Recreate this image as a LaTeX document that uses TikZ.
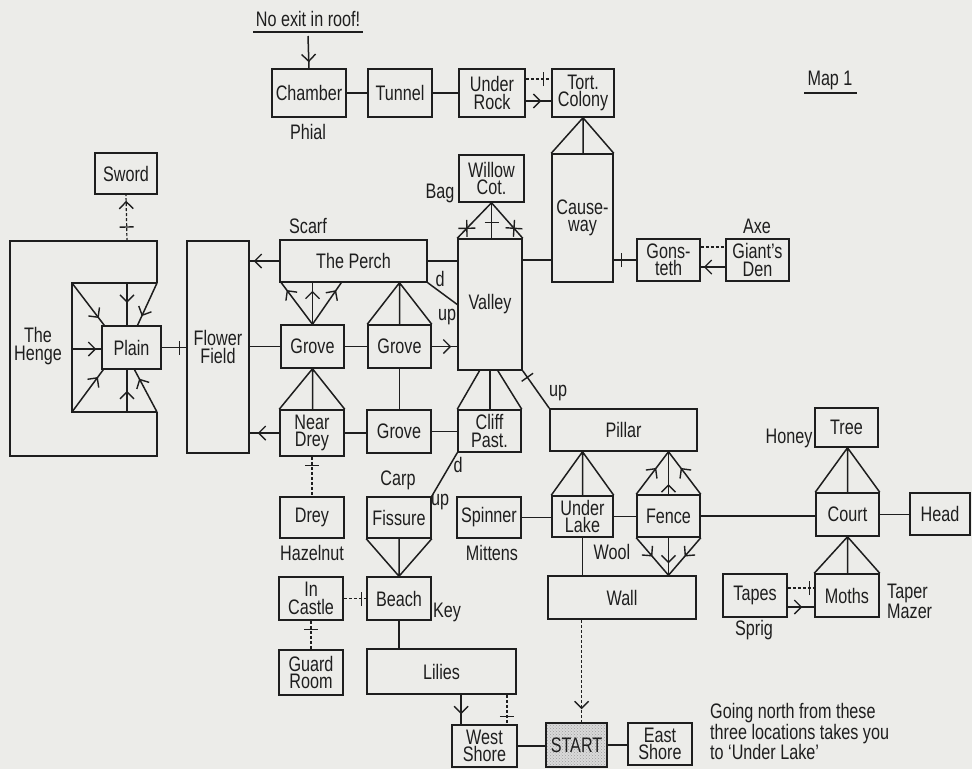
\documentclass[tikz,border=0pt]{standalone}
\usepackage{fontspec}
\setmainfont[FakeStretch=0.77]{Liberation Sans}
\usetikzlibrary{arrows.meta,decorations.markings,calc,patterns}
\definecolor{bg}{RGB}{236,236,233}
\definecolor{ink}{RGB}{30,30,30}
\tikzset{
 box/.style={draw=ink, line width=1.5pt, fill=bg, inner sep=0pt, align=center,
   font=\fontsize{21}{17.5}\selectfont, text=ink},
 lbl/.style={inner sep=0pt, align=center, font=\fontsize{21}{17.5}\selectfont, text=ink},
 ln/.style={draw=ink, line width=1.5pt},
 dsh/.style={draw=ink, line width=1.2pt, dash pattern=on 3pt off 2pt},
 chev/.style={postaction={decorate, decoration={markings, mark=at position #1 with
   {\arrow[ink, line width=1.4pt, solid]{Straight Barb[length=7pt,width=14pt]}}}}},
 tick/.style={postaction={decorate, decoration={markings, mark=at position #1 with
   {\draw[ink, line width=1.4pt, solid] (0pt,-7pt) -- (0pt,7pt);}}}},
 xmk/.style={postaction={decorate, decoration={markings, mark=at position #1 with
   {\draw[ink, line width=1.4pt, solid] (-6pt,-6pt) -- (6pt,6pt) (-6pt,6pt) -- (6pt,-6pt);}}}},
}
\begin{document}
\begin{tikzpicture}[x=1pt,y=-1pt]
\fill[bg] (0,0) rectangle (972,769);
\useasboundingbox (0,0) rectangle (972,769);

% ---------- boxes ----------
\node[box, minimum width=74, minimum height=48] (Chamber) at (309,93) {Chamber};
\node[box, minimum width=64, minimum height=48] (Tunnel) at (400,93) {Tunnel};
\node[box, minimum width=66, minimum height=48] (UnderRock) at (492,93) {Under\\Rock};
\node[box, minimum width=62, minimum height=48] (Tort) at (583,93) {Tort.\\Colony};
\node[box, minimum width=65, minimum height=47] (Willow) at (491.5,178.5) {Willow\\Cot.};
\node[box, minimum width=61, minimum height=128] (Causeway) at (582.5,218) {Cause-\\way};
\node[box, minimum width=64, minimum height=131] (Valley) at (490,304.5) {Valley};
\node[box, minimum width=63, minimum height=42] (Gonsteth) at (668.5,260) {Gons-\\teth};
\node[box, minimum width=63, minimum height=42] (GiantsDen) at (757.5,260) {Giant’s\\Den};
\node[box, minimum width=62, minimum height=41] (Sword) at (126,173.5) {Sword};
\node[box, minimum width=147, minimum height=42] (Perch) at (353.5,261) {The Perch};
\node[box, minimum width=59, minimum height=43] (Plain) at (131.5,347.5) {Plain};
\node[box, minimum width=62, minimum height=212] (FF) at (218,347) {Flower\\Field};
\node[box, minimum width=63, minimum height=43] (Grove1) at (312.5,346.5) {Grove};
\node[box, minimum width=63, minimum height=43] (Grove2) at (399.5,346.5) {Grove};
\node[box, minimum width=64, minimum height=46] (NearDrey) at (312,433) {Near\\Drey};
\node[box, minimum width=64, minimum height=43] (Grove3) at (399,431.5) {Grove};
\node[box, minimum width=63, minimum height=42] (CliffPast) at (489.5,431) {Cliff\\Past.};
\node[box, minimum width=147, minimum height=42] (Pillar) at (623.5,430) {Pillar};
\node[box, minimum width=64, minimum height=41] (Drey) at (312,517.5) {Drey};
\node[box, minimum width=64, minimum height=41] (Fissure) at (399,517.5) {Fissure};
\node[box, minimum width=64, minimum height=41] (Spinner) at (489,517.5) {Spinner};
\node[box, minimum width=61, minimum height=41] (UnderLake) at (582.5,516.5) {Under\\Lake};
\node[box, minimum width=63, minimum height=42] (Fence) at (668.5,516) {Fence};
\node[box, minimum width=63, minimum height=43] (Court) at (847.5,514.5) {Court};
\node[box, minimum width=60, minimum height=42] (Head) at (940,514) {Head};
\node[box, minimum width=63, minimum height=39] (Tree) at (846.5,427.5) {Tree};
\node[box, minimum width=64, minimum height=43] (InCastle) at (311,598.5) {In\\Castle};
\node[box, minimum width=64, minimum height=43] (Beach) at (399,598.5) {Beach};
\node[box, minimum width=64, minimum height=43] (Tapes) at (755,595.5) {Tapes};
\node[box, minimum width=64, minimum height=43] (Moths) at (847,595.5) {Moths};
\node[box, minimum width=148, minimum height=43] (Wall) at (622,597.5) {Wall};
\node[box, minimum width=64, minimum height=45] (GuardRoom) at (311,672.5) {Guard\\Room};
\node[box, minimum width=149, minimum height=45] (Lilies) at (441.5,671.5) {Lilies};
\node[box, minimum width=65, minimum height=42] (WestShore) at (484.5,746) {West\\Shore};
\node[box, minimum width=61, minimum height=44, preaction={fill=gray!30},
      pattern=crosshatch dots, pattern color=gray!75] (START) at (576.5,745) {START};
\node[box, minimum width=64, minimum height=42] (EastShore) at (660,744) {East\\Shore};

% ---------- The Henge ----------
\draw[ln] (157,283) -- (157,241) -- (10,241) -- (10,456) -- (157,456) -- (157,412);
\draw[ln] (157,283) -- (72,283) -- (72,412) -- (157,412);
\coordinate (iTL) at (72,283);
\coordinate (iT) at (127,283);
\coordinate (iTR) at (157,283);
\coordinate (iL) at (72,349);
\coordinate (iBL) at (72,412);
\coordinate (iB) at (127,412);
\coordinate (iBR) at (157,412);
\coordinate (hTop) at (127,241);
\node[lbl] (HengeL) at (38,346) {The\\Henge};

% ---------- labels ----------
\node[lbl] (NoExit) at (308,19) {No exit in roof!};
\draw[ink, line width=1.1pt] (253,32) -- (363,32);
\coordinate (nx) at (308,36);
\node[lbl] (Map) at (830,80) {Map 1};
\draw[ink, line width=1.1pt] (804,93) -- (857,93);
\node[lbl] at (308,132) {Phial};
\node[lbl] at (440,193) {Bag};
\node[lbl] at (308,226) {Scarf};
\node[lbl] at (757,226) {Axe};
\node[lbl] at (440,279) {d};
\node[lbl] at (447,317) {up};
\node[lbl] at (558,393) {up};
\node[lbl] at (398,480) {Carp};
\node[lbl] at (458,465) {d};
\node[lbl] at (440,502) {up};
\node[lbl] at (312,553) {Hazelnut};
\node[lbl] at (492,553) {Mittens};
\node[lbl] at (612,552) {Wool};
\node[lbl] at (447,612) {Key};
\node[lbl] at (789,438) {Honey};
\node[lbl, anchor=west, align=left] at (887,601) {Taper\\Mazer};
\node[lbl] at (754,630) {Sprig};
\node[lbl, anchor=north west, align=left, font=\fontsize{21}{17}\selectfont] (Note) at (710,703)
  {Going north from these\\three locations takes you\\to ‘Under Lake’};

% ---------- connectors ----------
\draw[ln, chev=-6pt] (nx) -- (Chamber.north);
\draw[ln] (Chamber) -- (Tunnel);
\draw[ln] (Tunnel) -- (UnderRock);
\draw[dsh, tick=-8pt] ([yshift=14pt]UnderRock.east) -- ([yshift=14pt]Tort.west);
\draw[ln, chev=-10pt] ([yshift=-8pt]UnderRock.east) -- ([yshift=-8pt]Tort.west);
\draw[ln] (Causeway.north west) -- (Tort.south) -- (Causeway.north east)
          (Tort.south) -- (Tort.south |- Causeway.north);

\draw[ln, xmk=0.72] (Willow.south) -- (Valley.north west);
\draw[ln, xmk=0.72] (Willow.south) -- (Valley.north east);
\draw[ln, tick=0.55] (Willow.south) -- (Willow.south |- Valley.north);

\draw[ln] (Valley.east |- Gonsteth.west) -- (Causeway.west |- Gonsteth.west);
\draw[ln, tick=8pt] (Causeway.east |- Gonsteth.west) -- (Gonsteth.west);
\draw[dsh] ([yshift=13pt]Gonsteth.east) -- ([yshift=13pt]GiantsDen.west);
\draw[ln, chev=-3pt] ([yshift=-7pt]GiantsDen.west) -- ([yshift=-7pt]Gonsteth.east);

\draw[dsh, chev=-6pt, tick=14pt] (hTop) -- (Sword.south);

\draw[ln, chev=-9pt] (iTL) -- ($(Plain.north west)+(3,0)$);
\draw[ln, chev=0.47] (iT) -- (iT |- Plain.north);
\draw[ln, chev=-10pt] (iTR) -- ($(Plain.north west)!0.6!(Plain.north east)$);
\draw[ln, chev=-5pt] (iL) -- (iL -| Plain.west);
\draw[ln, chev=-9pt] (iBL) -- ($(Plain.south west)+(2,0)$);
\draw[ln, chev=0.5] (iB) -- (iB |- Plain.south);
\draw[ln, chev=-10pt] (iBR) -- ($(Plain.south west)!0.55!(Plain.south east)$);
\draw[ln, tick=-7pt] (Plain.east) -- (Plain.east -| FF.west);

\draw[ln, chev=-4pt] (Perch.west) -- (Perch.west -| FF.east);
\draw[ln] (Grove1.west) -- (Grove1.west -| FF.east);
\draw[ln, chev=-8pt] (NearDrey.west) -- (NearDrey.west -| FF.east);

\draw[ln] (Perch.east) -- (Perch.east -| Valley.west);
\draw[ln] (Perch.south east) -- (Valley.west);

\draw[ln, chev=-9pt] (Grove1.north) -- ($(Perch.south west)+(2,0)$);
\draw[ln, chev=-8pt] (Grove1.north) -- (Grove1.north |- Perch.south);
\draw[ln, chev=-9pt] (Grove1.north) -- ($(Perch.south west)+(62,0)$);
\draw[ln] (Grove2.north west) -- (Grove2.north |- Perch.south) -- (Grove2.north east)
          (Grove2.north |- Perch.south) -- (Grove2.north);
\draw[ln] (Grove1) -- (Grove2);
\draw[ln, chev=-6pt] (Grove2.east) -- (Grove2.east -| Valley.west);

\draw[ln] (NearDrey.north west) -- (Grove1.south) -- (NearDrey.north east)
          (Grove1.south) -- (Grove1.south |- NearDrey.north);
\draw[ln] (Grove2.south) -- (Grove2.south |- Grove3.north);
\draw[ln] (NearDrey.east) -- (NearDrey.east -| Grove3.west);
\draw[ln] (Grove3.east) -- (Grove3.east -| CliffPast.west);

\draw[ln] ($(Valley.south west)!0.34!(Valley.south east)$) -- (CliffPast.north west);
\draw[ln] ($(Valley.south west)!0.62!(Valley.south east)$) -- (CliffPast.north east);
\draw[ln] (Valley.south) -- (Valley.south |- CliffPast.north);
\draw[ln, tick=8pt] (Valley.south east) -- (Pillar.north west);

\draw[dsh, tick=9pt] (NearDrey.south) -- (Drey.north);
\draw[ln] (CliffPast.south west) -- (Fissure.north east);
\draw[ln] (Spinner.east) -- (Spinner.east -| UnderLake.west);
\draw[ln] (Fissure.south west) -- (Beach.north) -- (Fissure.south east)
          (Fissure.south) -- (Beach.north);
\draw[dsh, tick=-5pt] (InCastle.east) -- (InCastle.east -| Beach.west);
\draw[dsh, tick=9pt] (InCastle.south) -- (GuardRoom.north);
\draw[ln] (Beach.south) -- (Beach.south |- Lilies.north);

\coordinate (lw) at ($(Lilies.south west)!0.63!(Lilies.south east)$);
\coordinate (ld) at ($(Lilies.south west)!0.935!(Lilies.south east)$);
\draw[ln, chev=-10pt] (lw) -- (lw |- WestShore.north);
\draw[dsh, tick=-8pt] (ld) -- (ld |- WestShore.north);
\draw[ln] (WestShore.east) -- (WestShore.east -| START.west);
\draw[ln] (START.east) -- (START.east -| EastShore.west);

\coordinate (wd) at ($(Wall.south west)!0.23!(Wall.south east)$);
\draw[dsh, chev=-13pt] (wd) -- (wd |- START.north);

\draw[ln] (UnderLake.north west) -- (UnderLake.north |- Pillar.south) -- (UnderLake.north east)
          (UnderLake.north |- Pillar.south) -- (UnderLake.north);
\draw[ln, chev=0.62] (Fence.north west) -- (Fence.north |- Pillar.south);
\draw[ln, chev=0.62] (Fence.north east) -- (Fence.north |- Pillar.south);
\draw[ln, chev=0.24] (Fence.north) -- (Fence.north |- Pillar.south);
\draw[ln] (UnderLake.east) -- (UnderLake.east -| Fence.west);
\draw[ln] (UnderLake.south) -- (UnderLake.south |- Wall.north);
\draw[ln, chev=0.5] (Fence.south west) -- (Fence.south |- Wall.north);
\draw[ln, chev=0.5] (Fence.south east) -- (Fence.south |- Wall.north);
\draw[ln, chev=0.68] (Fence.south) -- (Fence.south |- Wall.north);

\draw[ln] (Fence.east) -- (Fence.east -| Court.west);
\draw[ln] (Court.east) -- (Court.east -| Head.west);
\draw[ln] (Court.north west) -- (Court.north |- Tree.south) -- (Court.north east)
          (Court.north |- Tree.south) -- (Court.north);
\draw[ln] (Moths.north west) -- (Court.south) -- (Moths.north east)
          (Court.south) -- (Court.south |- Moths.north);
\draw[dsh, tick=-5pt] ([yshift=7.5pt]Tapes.east) -- ([yshift=7.5pt]Moths.west);
\draw[ln, chev=-12pt] ([yshift=-11.5pt]Tapes.east) -- ([yshift=-11.5pt]Moths.west);
\end{tikzpicture}
\end{document}
